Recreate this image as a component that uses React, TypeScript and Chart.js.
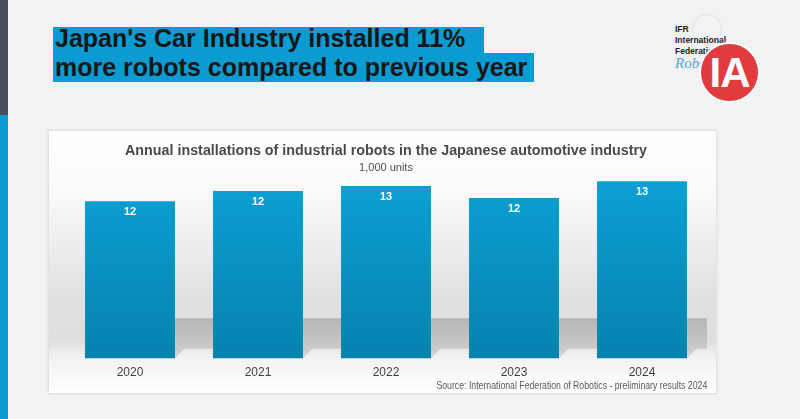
import React, { useEffect, useRef } from "react";
import { Chart, registerables } from "chart.js";

Chart.register(...registerables);

// ---- data ----
const years = ["2020", "2021", "2022", "2023", "2024"];
const installations = [11.64, 12.45, 12.83, 11.9, 13.2]; // 1,000 units
const axisMin = -0.6;
const axisMax = 13.74;

const headlineLines = [
  "Japan's Car Industry installed 11%",
  "more robots compared to previous year",
];
const chartTitle =
  "Annual installations of industrial robots in the Japanese automotive industry";
const unitLabel = "1,000 units";
const sourceNote =
  "Source: International Federation of Robotics - preliminary results 2024";
const logoLines = ["IFR", "International", "Federation of"];
const logoScript = "Robotics";
const logoMark = "IA";

const FONT = "'Liberation Sans', Arial, Helvetica, sans-serif";

const floorShadow = {
  id: "floorShadow",
  beforeDatasetsDraw(chart: any) {
    const meta = chart.getDatasetMeta(0);
    const bars = meta.data;
    if (!bars || !bars.length) return;
    const ctx = chart.ctx;
    const area = chart.chartArea;
    const B = bars[0].base;
    const top = B - 40;
    const bot = B - 10;
    const first = bars[0];
    const fl = first.x - first.width / 2;
    const right = area.right + 1;
    ctx.save();
    ctx.beginPath();
    ctx.rect(fl, top - 2, right - fl, B - top + 4);
    ctx.clip();
    const g = ctx.createLinearGradient(0, top, 0, B);
    g.addColorStop(0, "#b5b5b5");
    g.addColorStop(0.75, "#cacaca");
    g.addColorStop(1, "#dcdcdc");
    ctx.fillStyle = g;
    ctx.fillRect(fl, top, right - fl, bot - top);
    bars.forEach((b: any) => {
      const R = b.x + b.width / 2;
      ctx.beginPath();
      ctx.moveTo(R, B);
      ctx.lineTo(R, top);
      ctx.lineTo(R + 37, top);
      ctx.closePath();
      ctx.fill();
    });
    ctx.restore();
  },
};

const valueLabels = {
  id: "valueLabels",
  afterDatasetsDraw(chart: any) {
    const meta = chart.getDatasetMeta(0);
    const ctx = chart.ctx;
    ctx.save();
    ctx.font = `bold 11px ${FONT}`;
    ctx.fillStyle = "#ffffff";
    ctx.textAlign = "center";
    ctx.textBaseline = "middle";
    meta.data.forEach((b: any, i: number) => {
      ctx.fillText(String(Math.round(installations[i])), b.x, b.y + 11);
    });
    ctx.restore();
  },
};

function BarChart() {
  const ref = useRef<HTMLCanvasElement | null>(null);
  useEffect(() => {
    if (!ref.current) return;
    const chart = new Chart(ref.current, {
      type: "bar",
      data: {
        labels: years,
        datasets: [
          {
            data: installations,
            base: axisMin,
            borderWidth: 0,
            categoryPercentage: 1,
            barPercentage: 0.703,
            backgroundColor: (c: any) => {
              const { ctx, chartArea } = c.chart;
              if (!chartArea) return "#0795c8";
              const g = ctx.createLinearGradient(0, chartArea.top, 0, chartArea.bottom);
              g.addColorStop(0, "#0ca0d5");
              g.addColorStop(1, "#0681ae");
              return g;
            },
          } as any,
        ],
      },
      options: {
        responsive: false,
        animation: false,
        layout: { padding: { left: 18, right: 10, top: 0, bottom: 7 } },
        plugins: {
          legend: { display: false },
          tooltip: { enabled: false },
          title: {
            display: true,
            text: chartTitle,
            color: "#4a4a4a",
            font: { family: FONT, size: 14.3, weight: "bold" },
            padding: { top: 12, bottom: 2 },
          },
          subtitle: {
            display: true,
            text: unitLabel,
            color: "#505050",
            font: { family: FONT, size: 11 },
            padding: { top: 0, bottom: 0 },
          },
        },
        scales: {
          x: {
            grid: { display: false, drawTicks: false },
            border: { display: false },
            ticks: { color: "#404040", font: { family: FONT, size: 12 }, padding: 7 },
          },
          y: { display: false, min: axisMin, max: axisMax },
        },
      },
      plugins: [floorShadow, valueLabels],
    });
    return () => chart.destroy();
  }, []);
  return (
    <canvas
      ref={ref}
      width={668}
      height={264}
      style={{ position: "absolute", left: 48, top: 130, width: 668, height: 264 }}
    />
  );
}

export default function App() {
  return (
    <div
      style={{
        position: "fixed",
        left: 0,
        top: 0,
        width: 800,
        height: 419,
        overflow: "hidden",
        background: "#f2f2f2",
        fontFamily: FONT,
      }}
    >
      {/* left strip */}
      <div style={{ position: "absolute", left: 0, top: 0, width: 8, height: 115, background: "#474f5e" }} />
      <div style={{ position: "absolute", left: 0, top: 115, width: 8, height: 304, background: "#0a9bd0" }} />

      {/* headline */}
      <div
        style={{
          position: "absolute",
          left: 53,
          top: 27,
          width: 431,
          height: 26,
          background: "#0a9bd1",
          font: `bold 25px ${FONT}`,
          lineHeight: "22px",
          color: "#161616",
          whiteSpace: "nowrap",
          paddingLeft: 2,
          boxSizing: "border-box",
        }}
      >
        {headlineLines[0]}
      </div>
      <div
        style={{
          position: "absolute",
          left: 53,
          top: 53,
          width: 481,
          height: 29,
          background: "#0a9bd1",
          font: `bold 25px ${FONT}`,
          lineHeight: "29px",
          color: "#161616",
          whiteSpace: "nowrap",
          paddingLeft: 2,
          boxSizing: "border-box",
        }}
      >
        {headlineLines[1]}
      </div>

      {/* logo */}
      <div
        style={{
          position: "absolute",
          left: 692,
          top: 14,
          width: 28,
          height: 28,
          borderRadius: "50%",
          border: "1px solid rgba(140,195,225,0.3)",
        }}
      />
      <div
        style={{
          position: "absolute",
          left: 675,
          top: 24,
          font: `bold 8.5px ${FONT}`,
          lineHeight: "11px",
          color: "#222",
          whiteSpace: "nowrap",
        }}
      >
        {logoLines.map((l) => (
          <div key={l}>{l}</div>
        ))}
      </div>
      <div
        style={{
          position: "absolute",
          left: 675,
          top: 55,
          font: "italic 15px 'Liberation Serif', serif",
          color: "#4fa9d6",
          whiteSpace: "nowrap",
        }}
      >
        {logoScript}
      </div>
      <div
        style={{
          position: "absolute",
          left: 699,
          top: 42,
          width: 61,
          height: 61,
          borderRadius: "50%",
          background: "#e23b3f",
          border: "2px solid #ffffff",
          boxSizing: "border-box",
          display: "flex",
          alignItems: "center",
          justifyContent: "center",
          color: "#ffffff",
          font: `bold 42px ${FONT}`,
          letterSpacing: "-1px",
          overflow: "hidden",
        }}
      >
        {logoMark}
      </div>

      {/* chart card */}
      <div
        style={{
          position: "absolute",
          left: 48,
          top: 130,
          width: 669,
          height: 264,
          boxSizing: "border-box",
          border: "1px solid #e2e2e2",
          boxShadow: "0 0 2px rgba(0,0,0,0.08)",
          background:
            "linear-gradient(to bottom, #ffffff 0%, #fbfbfb 22%, #ececec 45%, #e0e0e0 64%, #dedede 80%, #f2f2f2 86%, #ffffff 100%)",
        }}
      />
      <BarChart />
      <div
        style={{
          position: "absolute",
          right: 93,
          top: 379,
          font: `10.5px ${FONT}`,
          lineHeight: "12px",
          color: "#595959",
          whiteSpace: "nowrap",
          transform: "scaleX(0.83)",
          transformOrigin: "right center",
        }}
      >
        {sourceNote}
      </div>
    </div>
  );
}
